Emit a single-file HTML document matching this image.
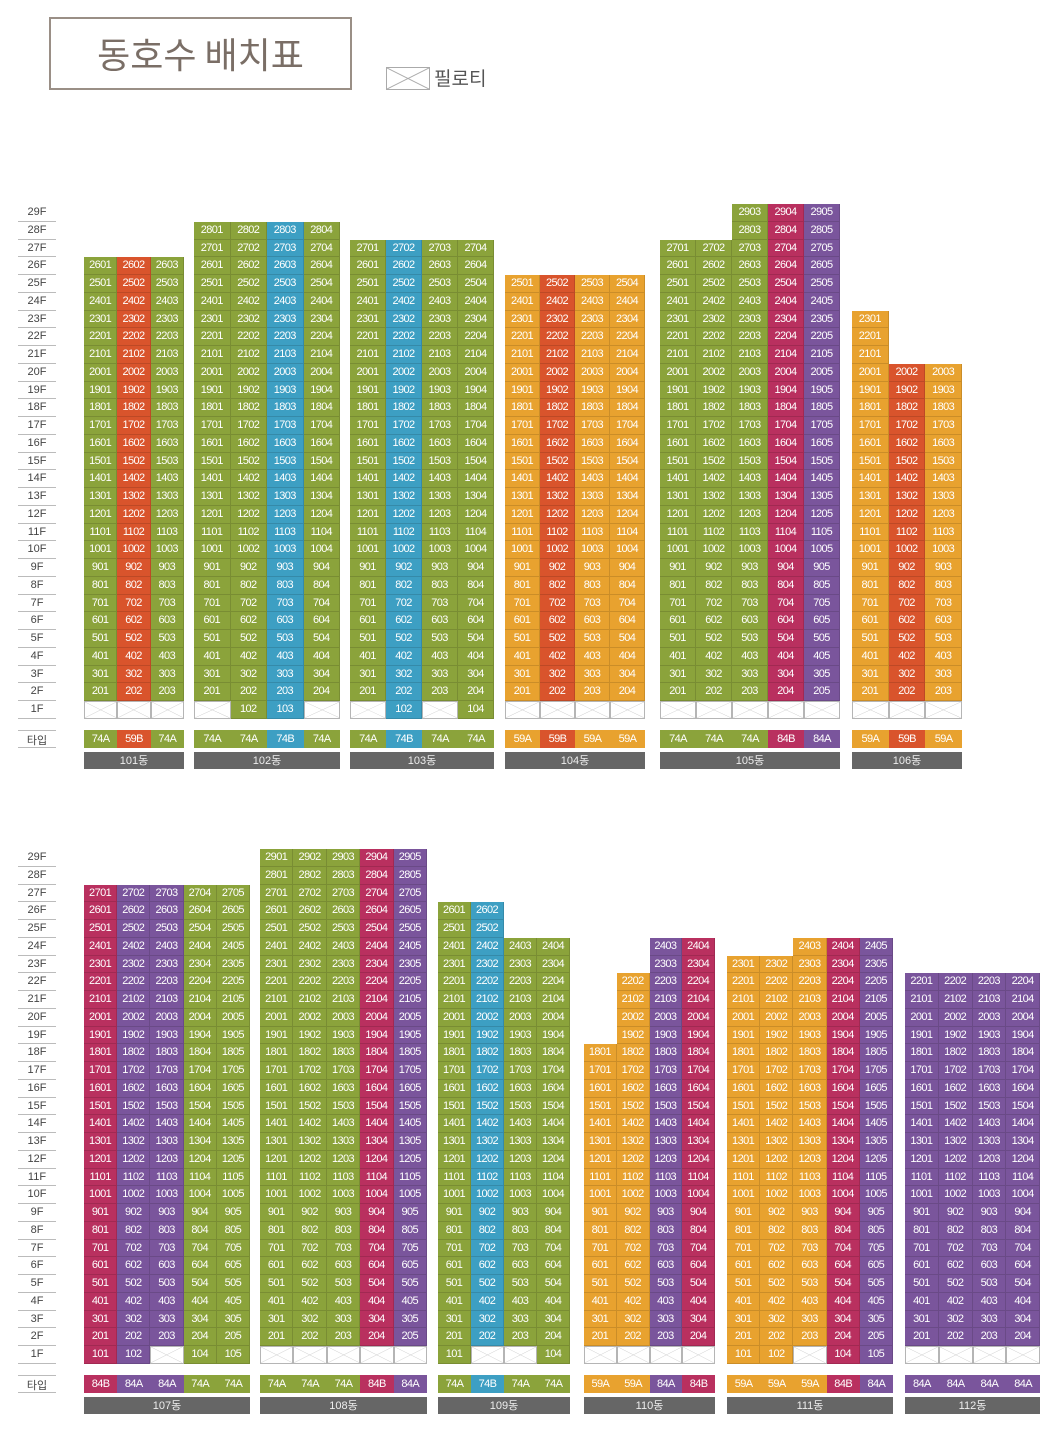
<!DOCTYPE html>
<html><head><meta charset="utf-8">
<style>
body{margin:0;width:1060px;height:1440px;background:#fff;position:relative;overflow:hidden;font-family:"Liberation Sans Narrow","Liberation Sans","Noto Sans CJK KR",sans-serif;}
.abs{position:absolute;box-sizing:border-box;}
.cell{position:absolute;box-sizing:border-box;color:#fff;font-size:11px;text-align:center;letter-spacing:-0.6px;border-right:1px solid rgba(0,0,0,0.13);border-bottom:1px solid rgba(0,0,0,0.13);overflow:hidden;}
.pilo{background:#fff;border:1px solid #b5b5b5;}
.flab{position:absolute;left:18px;width:38px;text-align:center;font-size:11px;color:#444;border-bottom:1px solid #bbb;box-sizing:border-box;}
.dong{position:absolute;background:#666;color:#eee;font-size:11px;text-align:center;box-sizing:border-box;}
</style></head><body>
<div class="abs" style="left:49px;top:17px;width:303px;height:73px;border:2px solid #9a8f86;color:#7a6e66;font-family:'Noto Sans CJK KR',sans-serif;font-size:36px;text-align:center;line-height:68px;">동호수 배치표</div>
<div class="abs" style="left:386px;top:67px;width:44px;height:23px;border:1px solid #aaa;">
<svg width="42" height="21" style="display:block"><line x1="0" y1="0" x2="42" y2="21" stroke="#aaa"/><line x1="0" y1="21" x2="42" y2="0" stroke="#aaa"/></svg></div>
<div class="abs" style="left:434px;top:64px;font-family:'Noto Sans CJK KR',sans-serif;font-size:19px;color:#555;">필로티</div>
<div id="root"></div>
<script>
const COLORS={g:'#8ba33b',r:'#d9542c',b:'#3d9fc3',o:'#e8a22f',p:'#7a559c',m:'#b9305f'};
// building names
const names=['101','102','103','104','105','106','107','108','109','110','111','112'];
// column colors
const colColors=[['g','r','g'],['g','g','b','g'],['g','b','g','g'],['o','r','o','o'],['g','g','g','m','p'],['o','r','o'],
['m','p','p','g','g'],['g','g','g','m','p'],['g','b','g','g'],['o','o','p','m'],['o','o','o','m','p'],['p','p','p','p']];
// top floor per column
const topFloors=[[26,26,26],[28,28,28,28],[27,27,27,27],[25,25,25,25],[27,27,29,29,29],[23,20,20],
[27,27,27,27,27],[29,29,29,29,29],[26,26,24,24],[18,22,24,24],[23,23,24,24,24],[22,22,22,22]];
// 1F: 1 = unit, 0 = pilotis
const firstFloor=[[0,0,0],[0,1,1,0],[0,1,0,1],[0,0,0,0],[0,0,0,0,0],[0,0,0],
[1,1,0,1,1],[0,0,0,0,0],[1,0,0,1],[0,0,0,0],[1,1,0,1,1],[0,0,0,0]];
// unit types
const types=[['74A','59B','74A'],['74A','74A','74B','74A'],['74A','74B','74A','74A'],['59A','59B','59A','59A'],['74A','74A','74A','84B','84A'],['59A','59B','59A'],
['84B','84A','84A','74A','74A'],['74A','74A','74A','84B','84A'],['74A','74B','74A','74A'],['59A','59A','84A','84B'],['59A','59A','59A','84B','84A'],['84A','84A','84A','84A']];
const layout=[[84,184],[194,340],[350,494],[505,645],[660,840],[852,962],[84,250],[260,427],[438,570],[584,715],[727,893],[905,1040]];
const ROW=17.75, sectionTop=[204,849];
const root=document.getElementById('root');
function yOf(sec,f){return sectionTop[sec]+(29-f)*ROW;}
for(let s=0;s<2;s++){
  for(let f=29;f>=1;f--){
    const l=document.createElement('div');l.className='flab';
    
    
    l.style.top=yOf(s,f)+'px';l.style.height=ROW+'px';l.style.lineHeight=ROW+'px';l.textContent=f+'F';root.appendChild(l);
  }
  const t=document.createElement('div');t.className='flab';
  
  
  t.style.top=(yOf(s,1)+ROW+11)+'px';t.style.height='18px';t.style.lineHeight='18px';t.style.borderTop='1px solid #bbb';
  t.style.fontFamily="'Noto Sans CJK KR',sans-serif";t.textContent='타입';root.appendChild(t);
}
names.forEach((nm,bi)=>{
  const s=bi<6?0:1;const [x0,x1]=layout[bi];const n=colColors[bi].length;const w=(x1-x0)/n;
  for(let c=0;c<n;c++){
    const col=COLORS[colColors[bi][c]];const x=x0+c*w;
    for(let f=topFloors[bi][c];f>=1;f--){
      const d=document.createElement('div');d.className='cell';
      
      
      d.style.left=x+'px';d.style.top=yOf(s,f)+'px';d.style.width=w+'px';d.style.height=ROW+'px';d.style.lineHeight=(ROW-1)+'px';
      if(f===1&&!firstFloor[bi][c]){
        d.className='cell pilo';
        d.innerHTML='<svg width="100%" height="100%" viewBox="0 0 10 10" preserveAspectRatio="none" style="display:block"><line x1="0" y1="0" x2="10" y2="10" stroke="#bbb" stroke-width="0.15"/><line x1="0" y1="10" x2="10" y2="0" stroke="#bbb" stroke-width="0.15"/></svg>';
      } else {d.style.background=col;d.textContent=f+String(c+1).padStart(2,'0');}
      root.appendChild(d);
    }
    const t=document.createElement('div');t.className='cell';
    
    
    t.style.left=x+'px';t.style.top=(yOf(s,1)+ROW+11)+'px';t.style.width=w+'px';t.style.height='18px';t.style.lineHeight='18px';
    t.style.background=col;t.style.border='none';t.textContent=types[bi][c];root.appendChild(t);
  }
  const d=document.createElement('div');d.className='dong';
  
  
  d.style.left=x0+'px';d.style.width=(x1-x0)+'px';d.style.top=(yOf(s,1)+ROW+33)+'px';d.style.height='17px';d.style.lineHeight='17px';
  d.innerHTML=nm+'<span style="font-family:\'Noto Sans CJK KR\',sans-serif">동</span>';root.appendChild(d);
});
</script>
</body></html>
